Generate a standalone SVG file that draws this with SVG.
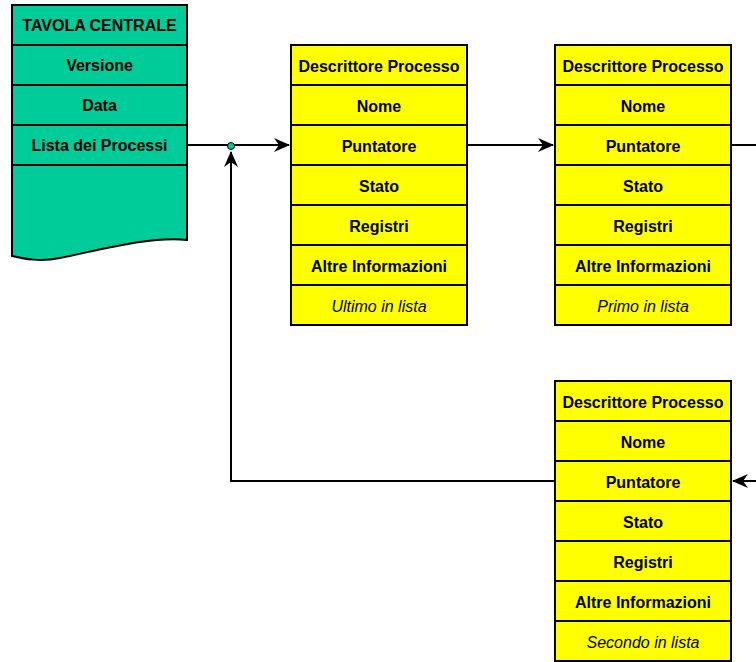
<svg xmlns="http://www.w3.org/2000/svg" width="756" height="662" viewBox="0 0 756 662">
<defs>
<style>
.t{font-family:"Liberation Sans",Arial,sans-serif;font-size:16px;font-weight:bold;text-anchor:middle;fill:#000}
.i{font-family:"Liberation Sans",Arial,sans-serif;font-size:16px;font-style:italic;text-anchor:middle;fill:#000}
.y{fill:#ffff00;stroke:#000;stroke-width:2}
.g{fill:#00cc99;stroke:#000;stroke-width:2}
.c{fill:none;stroke:#000;stroke-width:2}
</style>
<marker id="ah" markerWidth="16" markerHeight="14" refX="15" refY="7" orient="auto" markerUnits="userSpaceOnUse">
<path d="M0,0 L16,7 L0,14 L5,7 Z" fill="#000"/>
</marker>
</defs>
<rect width="756" height="662" fill="#fff"/>
<g id="tavola">
<path class="g" d="M12,165 H187 V240 C150,236 100,250 60,258 C40,262 25,259 12,256 Z"/>
<rect class="g" x="12" y="5" width="175" height="40"/>
<rect class="g" x="12" y="45" width="175" height="40"/>
<rect class="g" x="12" y="85" width="175" height="40"/>
<rect class="g" x="12" y="125" width="175" height="40"/>
<text class="t" x="99.5" y="31">TAVOLA CENTRALE</text>
<text class="t" x="99.5" y="71">Versione</text>
<text class="t" x="99.5" y="111">Data</text>
<text class="t" x="99.5" y="151">Lista dei Processi</text>
</g>
<g id="connectors">
<path class="c" d="M188,145 H289" marker-end="url(#ah)"/>
<path class="c" d="M467,145 H553" marker-end="url(#ah)"/>
<path class="c" d="M731,145 H756"/>
<path class="c" d="M756,481 H733" marker-end="url(#ah)"/>
<path class="c" d="M555,481 H231 V152" marker-end="url(#ah)"/>
<circle cx="231" cy="146" r="3.5" fill="#00cc99" stroke="#000" stroke-width="1"/>
</g>
<g id="desc1">
<rect class="y" x="291" y="45" width="176" height="40"/>
<rect class="y" x="291" y="85" width="176" height="40"/>
<rect class="y" x="291" y="125" width="176" height="40"/>
<rect class="y" x="291" y="165" width="176" height="40"/>
<rect class="y" x="291" y="205" width="176" height="40"/>
<rect class="y" x="291" y="245" width="176" height="40"/>
<rect class="y" x="291" y="285" width="176" height="40"/>
<text class="t" x="379" y="72">Descrittore Processo</text>
<text class="t" x="379" y="112">Nome</text>
<text class="t" x="379" y="152">Puntatore</text>
<text class="t" x="379" y="192">Stato</text>
<text class="t" x="379" y="232">Registri</text>
<text class="t" x="379" y="272">Altre Informazioni</text>
<text class="i" x="379" y="312">Ultimo in lista</text>
</g>
<g id="desc2">
<rect class="y" x="555" y="45" width="176" height="40"/>
<rect class="y" x="555" y="85" width="176" height="40"/>
<rect class="y" x="555" y="125" width="176" height="40"/>
<rect class="y" x="555" y="165" width="176" height="40"/>
<rect class="y" x="555" y="205" width="176" height="40"/>
<rect class="y" x="555" y="245" width="176" height="40"/>
<rect class="y" x="555" y="285" width="176" height="40"/>
<text class="t" x="643" y="72">Descrittore Processo</text>
<text class="t" x="643" y="112">Nome</text>
<text class="t" x="643" y="152">Puntatore</text>
<text class="t" x="643" y="192">Stato</text>
<text class="t" x="643" y="232">Registri</text>
<text class="t" x="643" y="272">Altre Informazioni</text>
<text class="i" x="643" y="312">Primo in lista</text>
</g>
<g id="desc3">
<rect class="y" x="555" y="381" width="176" height="40"/>
<rect class="y" x="555" y="421" width="176" height="40"/>
<rect class="y" x="555" y="461" width="176" height="40"/>
<rect class="y" x="555" y="501" width="176" height="40"/>
<rect class="y" x="555" y="541" width="176" height="40"/>
<rect class="y" x="555" y="581" width="176" height="40"/>
<rect class="y" x="555" y="621" width="176" height="40"/>
<text class="t" x="643" y="408">Descrittore Processo</text>
<text class="t" x="643" y="448">Nome</text>
<text class="t" x="643" y="488">Puntatore</text>
<text class="t" x="643" y="528">Stato</text>
<text class="t" x="643" y="568">Registri</text>
<text class="t" x="643" y="608">Altre Informazioni</text>
<text class="i" x="643" y="648">Secondo in lista</text>
</g>
</svg>
